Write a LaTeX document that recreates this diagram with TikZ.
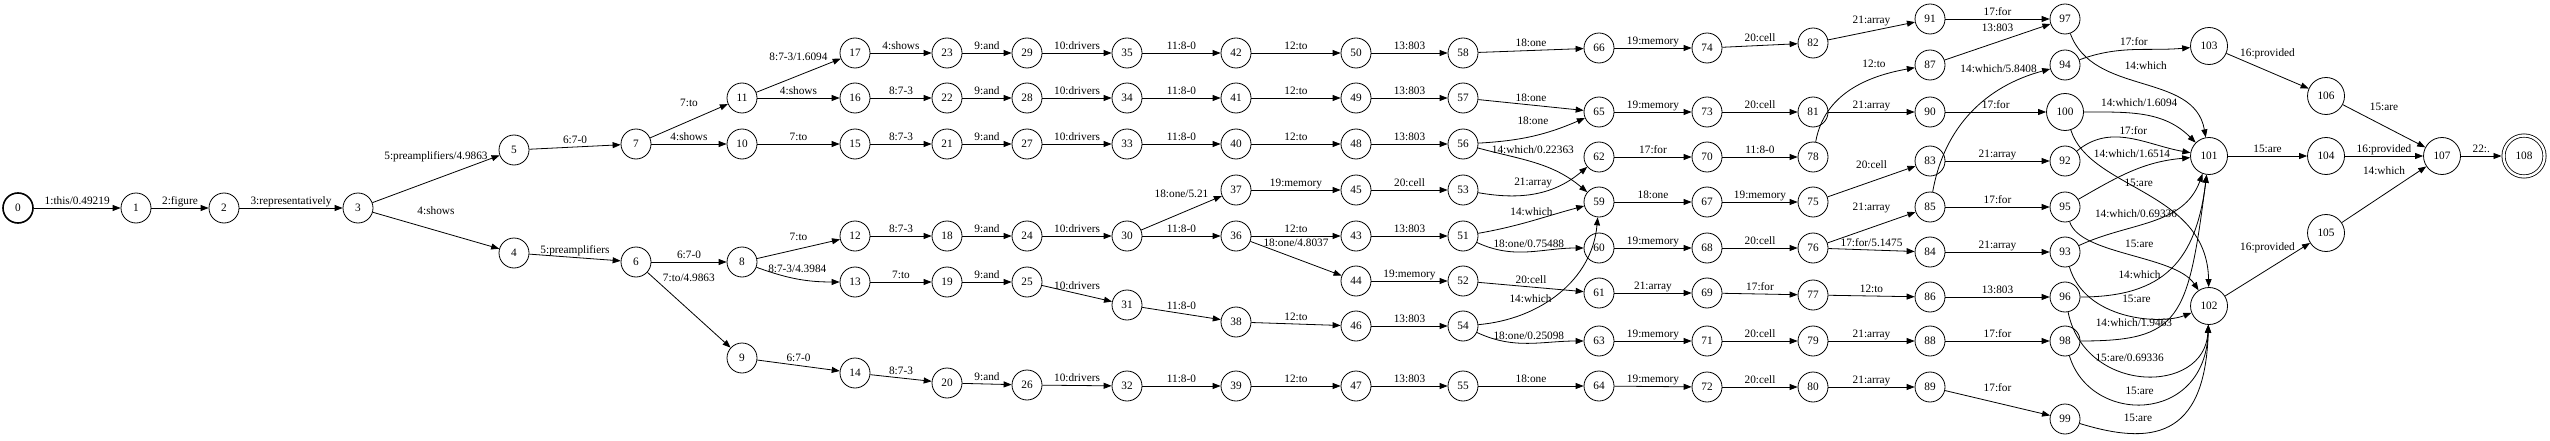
\documentclass[tikz,border=0pt]{standalone}
\usepackage{fontspec}
\setmainfont{Liberation Serif}
\usepackage{tikz}
\usetikzlibrary{arrows.meta}

\begin{document}
\begin{tikzpicture}[x=1pt,y=1pt,>={Triangle[length=8pt,width=6pt]},
  every node/.style={font=\fontsize{11.3}{13}\selectfont},
  st/.style={circle,draw,line width=0.8pt,minimum size=30pt,inner sep=0pt},
  big/.style={st,minimum size=37pt},
  fin/.style={big,double,double distance=2.4pt,minimum size=41pt,outer sep=2pt},
  lab/.style={midway,above,inner sep=1pt,text height=8pt,text depth=2.5pt},
  e/.style={->,line width=0.8pt}]
  \useasboundingbox (0,0) rectangle (2550,440);

  % states
  \node[st,line width=1.6pt] (s0) at (18,232) {0};
  \foreach \n/\x in {1/136,2/224,3/358} \node[st] (s\n) at (\x,232) {\n};
  \node[st] (s5) at (514,290) {5};
  \node[st] (s4) at (514,187) {4};
  \node[st] (s7) at (636,296) {7};
  \node[st] (s6) at (636,178) {6};
  \foreach \n/\y in {11/342,10/296,8/178,9/82} \node[st] (s\n) at (742,\y) {\n};
  \foreach \n/\y in {17/387,16/342,15/296,12/204,13/158,14/67} \node[st] (s\n) at (855,\y) {\n};
  \foreach \n/\y in {23/387,22/342,21/296,18/204,19/158,20/57} \node[st] (s\n) at (947,\y) {\n};
  \foreach \n/\y in {29/387,28/342,27/296,24/204,25/158,26/55} \node[st] (s\n) at (1027,\y) {\n};
  \foreach \n/\y in {35/387,34/342,33/296,30/204,31/135,32/54} \node[st] (s\n) at (1127,\y) {\n};
  \foreach \n/\y in {42/387,41/342,40/296,37/250,36/204,38/118,39/54} \node[st] (s\n) at (1236,\y) {\n};
  \foreach \n/\y in {50/387,49/342,48/296,45/250,43/204,44/159,46/114,47/54} \node[st] (s\n) at (1356,\y) {\n};
  \foreach \n/\y in {58/387,57/342,56/296,53/250,51/204,52/159,54/114,55/54} \node[st] (s\n) at (1463,\y) {\n};
  \foreach \n/\y in {66/392,65/328,62/283,59/238,60/192,61/147,63/99,64/54} \node[st] (s\n) at (1599,\y) {\n};
  \foreach \n/\y in {74/392,73/328,70/283,67/238,68/192,69/147,71/99,72/53} \node[st] (s\n) at (1707,\y) {\n};
  \foreach \n/\y in {82/397,81/328,78/283,75/238,76/192,77/145,79/99,80/53} \node[st] (s\n) at (1813,\y) {\n};
  \foreach \n/\y in {91/421,87/375,90/328,83/279,85/233,84/188,86/143,88/99,89/53} \node[st] (s\n) at (1930,\y) {\n};
  \foreach \n/\y in {97/421,94/375,92/279,95/233,93/188,96/143,98/99,99/21} \node[st] (s\n) at (2065,\y) {\n};
  \node[big] (s100) at (2065,328) {100};
  \node[big] (s103) at (2209,394) {103};
  \node[big] (s101) at (2209,284) {101};
  \node[big] (s102) at (2209,134) {102};
  \node[big] (s106) at (2326,344) {106};
  \node[big] (s104) at (2326,284) {104};
  \node[big] (s105) at (2326,207) {105};
  \node[big] (s107) at (2442,284) {107};
  \node[fin] (s108) at (2524,284) {108};

  % arcs
  \draw[e] (s0) -- node[lab] {1:this/0.49219} (s1);
  \draw[e] (s1) -- node[lab] {2:figure} (s2);
  \draw[e] (s2) -- node[lab] {3:representatively} (s3);
  \draw[e] (s3) -- node[lab,above=16pt] {5:preamplifiers/4.9863} (s5);
  \draw[e] (s3) -- node[lab,above=12pt] {4:shows} (s4);
  \draw[e] (s5) -- node[lab] {6:7-0} (s7);
  \draw[e] (s4) -- node[lab] {5:preamplifiers} (s6);
  \draw[e] (s7) -- node[lab,above=11pt] {7:to} (s11);
  \draw[e] (s7) -- node[lab] {4:shows} (s10);
  \draw[e] (s6) -- node[lab] {6:7-0} (s8);
  \draw[e] (s6) -- node[lab,pos=.17,anchor=south west] {7:to/4.9863} (s9);
  \draw[e] (s11) -- node[lab,above=11pt] {8:7-3/1.6094} (s17);
  \draw[e] (s11) -- node[lab] {4:shows} (s16);
  \draw[e] (s10) -- node[lab] {7:to} (s15);
  \draw[e] (s8) -- node[lab,above=5pt] {7:to} (s12);
  \draw[e] (s8) to[out=-20,in=180] node[lab,above=2pt] {8:7-3/4.3984} (s13);
  \draw[e] (s9) -- node[lab] {6:7-0} (s14);
  \draw[e] (s17) -- node[lab] {4:shows} (s23);
  \foreach \a/\b in {16/22,15/21,12/18,14/20} \draw[e] (s\a) -- node[lab] {8:7-3} (s\b);
  \draw[e] (s13) -- node[lab] {7:to} (s19);
  \foreach \a/\b in {23/29,22/28,21/27,18/24,19/25,20/26} \draw[e] (s\a) -- node[lab] {9:and} (s\b);
  \foreach \a/\b in {29/35,28/34,27/33,24/30,25/31,26/32} \draw[e] (s\a) -- node[lab] {10:drivers} (s\b);
  \foreach \a/\b in {35/42,34/41,33/40,30/36,31/38,32/39} \draw[e] (s\a) -- node[lab] {11:8-0} (s\b);
  \draw[e] (s30) -- node[lab,above=12pt] {18:one/5.21} (s37);
  \foreach \a/\b in {42/50,41/49,40/48,36/43,38/46,39/47} \draw[e] (s\a) -- node[lab] {12:to} (s\b);
  \draw[e] (s37) -- node[lab] {19:memory} (s45);
  \draw[e] (s36) -- node[lab,above=8pt] {18:one/4.8037} (s44);
  \foreach \a/\b in {50/58,49/57,48/56,43/51,46/54,47/55} \draw[e] (s\a) -- node[lab] {13:803} (s\b);
  \draw[e] (s45) -- node[lab] {20:cell} (s53);
  \draw[e] (s44) -- node[lab] {19:memory} (s52);
  \foreach \a/\b in {58/66,57/65,55/64} \draw[e] (s\a) -- node[lab] {18:one} (s\b);
  \draw[e] (s56) to[bend right=10] node[lab,above=8pt] {18:one} (s65);
  \draw[e] (s56) to[out=-15,in=140] node[lab,pos=.47,above=5pt] {14:which/0.22363} (s59);
  \draw[e] (s53) to[out=-10,in=220] node[lab,pos=.47,above=4pt] {21:array} (s62);
  \draw[e] (s51) to[out=10,in=195] node[lab,above=2pt] {14:which} (s59);
  \draw[e] (s54) to[out=5,in=-95] node[lab,pos=.3,above=4pt] {14:which} (s59);
  \draw[e] (s51) to[out=-25,in=180] node[lab] {18:one/0.75488} (s60);
  \draw[e] (s52) -- node[lab] {20:cell} (s61);
  \draw[e] (s54) to[out=-25,in=180] node[lab] {18:one/0.25098} (s63);
  \foreach \a/\b in {66/74,65/73,60/68,63/71,64/72} \draw[e] (s\a) -- node[lab] {19:memory} (s\b);
  \draw[e] (s62) -- node[lab] {17:for} (s70);
  \draw[e] (s59) -- node[lab] {18:one} (s67);
  \draw[e] (s61) -- node[lab] {21:array} (s69);
  \foreach \a/\b in {74/82,73/81,68/76,71/79,72/80} \draw[e] (s\a) -- node[lab] {20:cell} (s\b);
  \draw[e] (s70) -- node[lab] {11:8-0} (s78);
  \draw[e] (s67) -- node[lab] {19:memory} (s75);
  \draw[e] (s69) -- node[lab] {17:for} (s77);
  \draw[e] (s82) -- node[lab,above=4pt] {21:array} (s91);
  \draw[e] (s78) to[out=80,in=190] node[lab,pos=.7,above=7pt] {12:to} (s87);
  \foreach \a/\b in {81/90,79/88,80/89,83/92,84/93} \draw[e] (s\a) -- node[lab] {21:array} (s\b);
  \draw[e] (s75) -- node[lab,above=9pt] {20:cell} (s83);
  \draw[e] (s76) -- node[lab,above=13pt] {21:array} (s85);
  \draw[e] (s76) -- node[lab] {17:for/5.1475} (s84);
  \draw[e] (s77) -- node[lab] {12:to} (s86);
  \draw[e] (s91) -- node[lab] {17:for} (s97);
  \draw[e] (s87) -- node[lab,above=7pt] {13:803} (s97);
  \draw[e] (s85) to[out=80,in=195] node[lab,pos=.7,above=14pt] {14:which/5.8408} (s94);
  \foreach \a/\b in {90/100,85/95,88/98} \draw[e] (s\a) -- node[lab] {17:for} (s\b);
  \draw[e] (s86) -- node[lab] {13:803} (s96);
  \draw[e] (s89) -- node[lab,above=8pt] {17:for} (s99);

  \draw[e] (s94) to[out=20,in=185] node[lab,above=0pt] {17:for} (s103);
  \draw[e] (s97) to[out=-70,in=100] node[lab,pos=.52,above=12pt] {14:which} (s101);
  \draw[e] (s100) to[out=0,in=135] node[lab,pos=.45,above=4pt] {14:which/1.6094} (s101);
  \draw[e] (s92) to[out=40,in=170] node[lab,pos=.53,above=0pt] {17:for} (s101);
  \draw[e] (s95) to[out=30,in=185] node[lab,pos=.5,above=10pt] {14:which/1.6514} (s101);
  \draw[e] (s93) to[out=25,in=-110] node[lab,pos=.38,above=5pt] {14:which/0.69336} (s101);
  \draw[e] (s96) .. controls (2165,143) and (2196,180) .. (s101) node[lab,pos=.28,above=6pt] {14:which};
  \draw[e] (s98) .. controls (2180,99) and (2188,120) .. (s101) node[lab,pos=.22,above=6pt] {14:which/1.9463};
  \draw[e] (s100) .. controls (2090,250) and (2207,250) .. (s102) node[lab,pos=.46,above=0pt] {15:are};
  \draw[e] (s95) .. controls (2080,185) and (2175,185) .. (s102) node[lab,pos=.56,above=7pt] {15:are};
  \draw[e] (s93) .. controls (2085,120) and (2160,115) .. (s102) node[lab,pos=.58,above=10pt] {15:are};
  \draw[e] (s96) .. controls (2085,45) and (2205,45) .. (s102) node[lab,pos=.43,above=9pt] {15:are/0.69336};
  \draw[e] (s98) .. controls (2090,15) and (2205,15) .. (s102) node[lab,pos=.47,above=6pt] {15:are};
  \draw[e] (s99) .. controls (2150,-5) and (2205,0) .. (s102) node[lab,pos=.3,above=8pt] {15:are};

  \draw[e] (s101) -- node[lab] {15:are} (s104);
  \draw[e] (s103) -- node[lab,above=11pt] {16:provided} (s106);
  \draw[e] (s106) -- node[lab,above=12pt] {15:are} (s107);
  \draw[e] (s104) -- node[lab] {16:provided} (s107);
  \draw[e] (s105) -- node[lab,above=16pt] {14:which} (s107);
  \draw[e] (s102) -- node[lab,above=15pt] {16:provided} (s105);
  \draw[e] (s107) -- node[lab] {22:.} (s108);
\end{tikzpicture}
\end{document}
